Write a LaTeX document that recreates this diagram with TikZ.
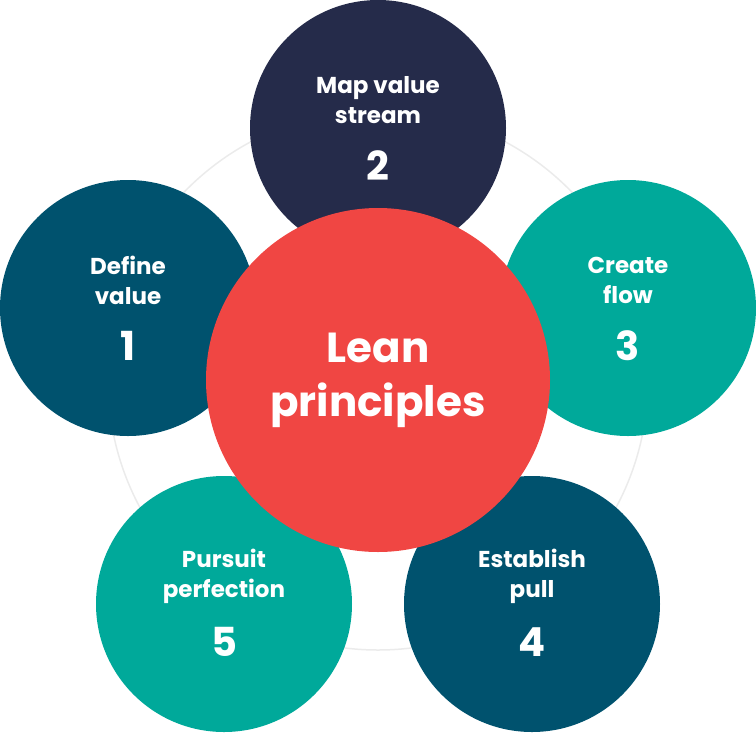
\documentclass[tikz,border=0pt]{standalone}
\usepackage{fontspec}
\setmainfont{Poppins}[BoldFont={* Bold}]
\definecolor{navy}{HTML}{252B4A}
\definecolor{dteal}{HTML}{00526E}
\definecolor{teal}{HTML}{00A99A}
\definecolor{lred}{HTML}{F04643}
\begin{document}
\begin{tikzpicture}[x=1pt,y=-1pt,
  petal/.style={circle,minimum size=256pt,inner sep=0pt,text=white,font=\bfseries,align=center},
  num/.style={font=\fontsize{40}{40}\selectfont\bfseries},
  lab/.style={font=\fontsize{23}{30}\selectfont\bfseries}]
\useasboundingbox (0,0) rectangle (756,732);
\draw[black!8,line width=1.5pt] (378,380) circle (270);
\node[petal,fill=navy] (p2) at (378,128) {};
\node[petal,fill=dteal] (p1) at (128,308) {};
\node[petal,fill=teal] (p3) at (628,308) {};
\node[petal,fill=dteal] (p4) at (532,604) {};
\node[petal,fill=teal] (p5) at (224,604) {};
\node[circle,fill=lred,minimum size=344pt,inner sep=0pt] (c) at (378,380) {};
\foreach \p/\n/\t in {p2/2/{Map value\\stream},p1/1/{Define\\value},p3/3/{Create\\flow},p4/4/{Establish\\pull},p5/5/{Pursuit\\perfection}}{
  \node[num,text=white] at ([yshift=-38pt]\p.center) {\n};
  \node[lab,text=white,align=center] at ([yshift=28pt]\p.center) {\t};
}
\node[text=white,align=center,font=\fontsize{42}{54}\selectfont\bfseries] at (c.center) {Lean\\principles};
\end{tikzpicture}
\end{document}
